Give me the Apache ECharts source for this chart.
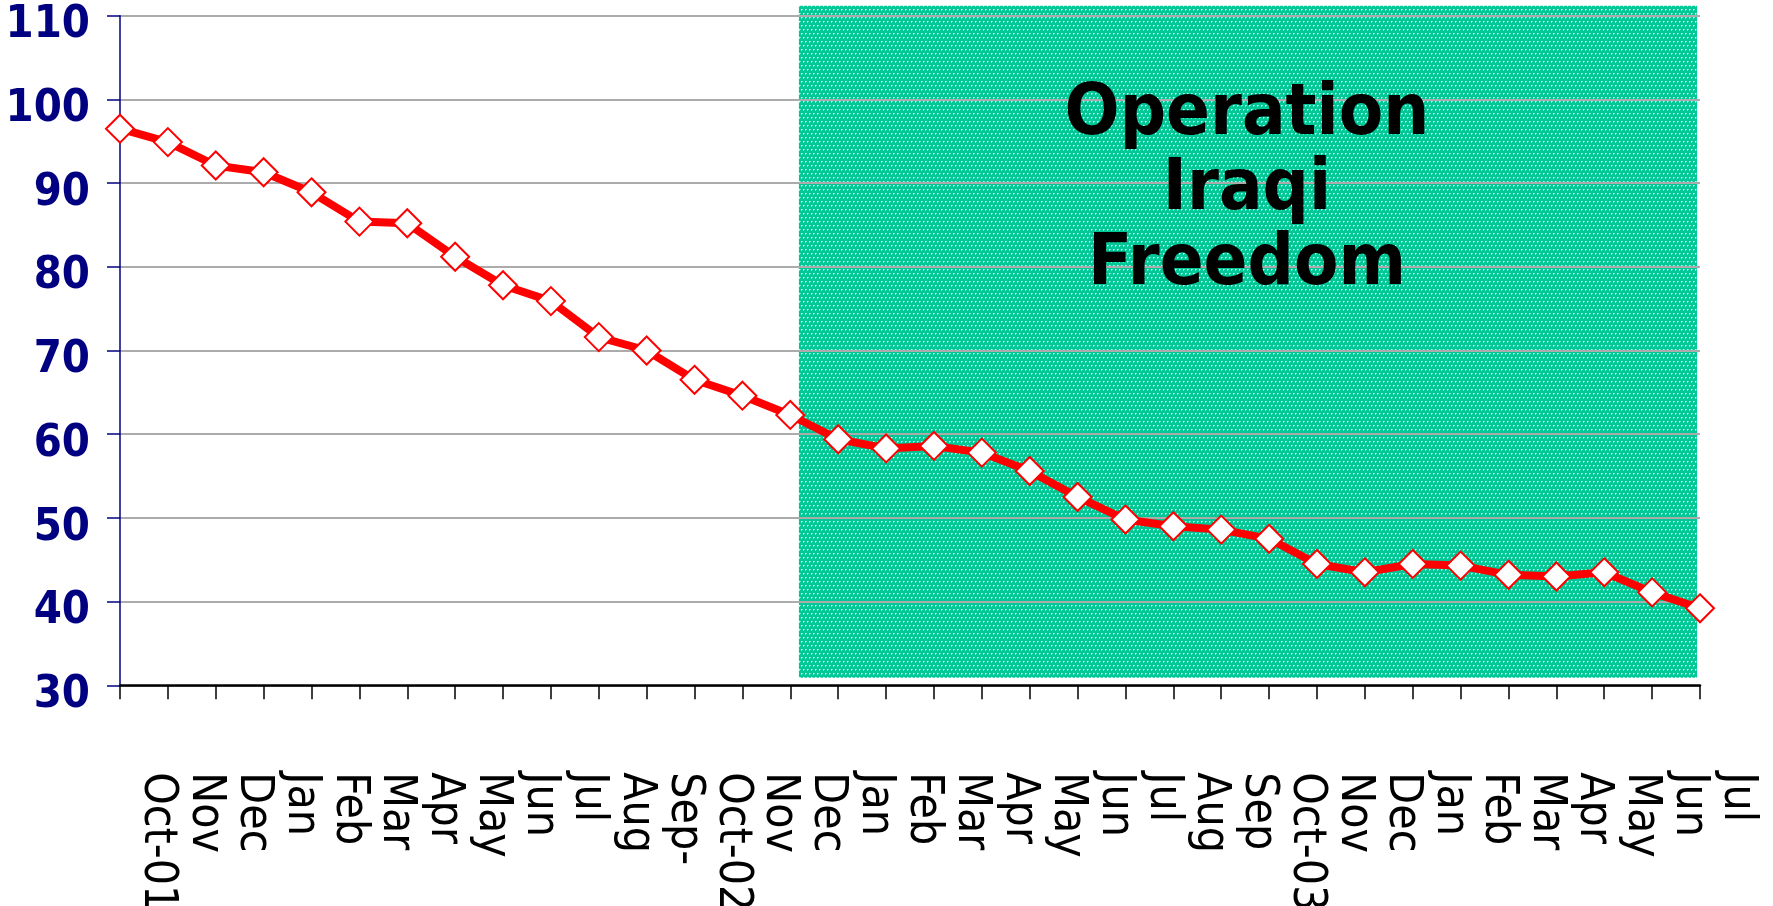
<!DOCTYPE html>
<html>
<head>
<meta charset="utf-8">
<script src="https://cdn.jsdelivr.net/npm/echarts@6/dist/echarts.min.js"></script>
<style>
html,body{margin:0;padding:0;background:#fff;}
#chart{width:1773px;height:906px;}
</style>
</head>
<body>
<div id="chart"></div>
<script>
const categories = ['Oct-01','Nov','Dec','Jan','Feb','Mar','Apr','May','Jun','Jul','Aug','Sep-',
  'Oct-02','Nov','Dec','Jan','Feb','Mar','Apr','May','Jun','Jul','Aug','Sep',
  'Oct-03','Nov','Dec','Jan','Feb','Mar','Apr','May','Jun','Jul'];
const values = [96.5,94.9,92.1,91.3,88.9,85.4,85.2,81.2,77.8,75.9,71.6,70.0,
  66.5,64.6,62.3,59.4,58.3,58.6,57.8,55.6,52.5,49.8,49.0,48.6,
  47.5,44.5,43.5,44.5,44.3,43.2,43.0,43.5,41.1,39.2];
const yTicks = {min:30, max:110, interval:10};
const shadeLabel = 'Operation\nIraqi\nFreedom';
// shaded period, in category-index / value units
const shade = {x0:14.18, x1:32.94, yTop:111.2, yBottom:30.9};

const condensed = "'DejaVu Sans Condensed','DejaVu Sans',sans-serif";

function makePattern(){
  const c = document.createElement('canvas');
  c.width = 8; c.height = 8;
  const g = c.getContext('2d');
  g.fillStyle = '#00c896';
  g.fillRect(0,0,8,8);
  g.fillStyle = 'rgba(255,255,255,0.95)';
  [[1,1],[5,1],[3,5],[7,5]].forEach(p=>g.fillRect(p[0],p[1],1,1));
  g.fillStyle = 'rgba(190,245,225,0.6)';
  [[2,1],[6,1],[4,5],[0,5],[1,2],[5,2],[3,6],[7,6]].forEach(p=>g.fillRect(p[0],p[1],1,1));
  return c;
}

const chart = echarts.init(document.getElementById('chart'), null, {renderer:'canvas'});
const option = {
  animation:false,
  backgroundColor:'#ffffff',
  title:{
    text: shadeLabel,
    left: 1247, top: 78, textAlign:'center', padding:0,
    textStyle:{fontFamily:condensed, fontWeight:'bold', fontSize:72, lineHeight:75, color:'#000'}
  },
  grid:{left:120, right:73, top:15.7, bottom:220.7, containLabel:false, outerBoundsMode:'none'},
  xAxis:{
    type:'category', data:categories, boundaryGap:false,
    axisLine:{show:true, lineStyle:{color:'#000', width:2.5}},
    axisTick:{show:true, interval:0, length:14, lineStyle:{color:'#000', width:1.5}},
    axisLabel:{interval:0, rotate:-90, margin:87, align:'left', verticalAlign:'bottom',
      padding:[0,0,14,0], fontFamily:condensed, fontSize:46, color:'#000'},
    splitLine:{show:false}
  },
  yAxis:{
    type:'value', min:yTicks.min, max:yTicks.max, interval:yTicks.interval,
    axisLine:{show:true, lineStyle:{color:'#000080', width:1.5}},
    axisTick:{show:true, length:13, lineStyle:{color:'#000080', width:1.5}},
    axisLabel:{margin:30, fontFamily:condensed, fontWeight:'bold', fontSize:45, color:'#000080',
      verticalAlign:'top', lineHeight:20},
    splitLine:{show:true, lineStyle:{color:'#ababab', width:2}}
  },
  series:[{
    type:'line', data:values, z:5,
    lineStyle:{color:'#ff0000', width:8},
    symbol:'diamond', symbolSize:28, showAllSymbol:true,
    itemStyle:{color:'#ffffff', borderColor:'#ff0000', borderWidth:2}
  }]
};
chart.setOption(option);

function px(i, v){ return chart.convertToPixel({gridIndex:0}, [i, v]); }
function xAt(f){
  const i = Math.floor(f);
  const a = px(i, yTicks.min)[0], b = px(i+1, yTicks.min)[0];
  return a + (f - i) * (b - a);
}
const xl = xAt(shade.x0), xr = xAt(shade.x1);
const yt = px(0, shade.yTop)[1], yb = px(0, shade.yBottom)[1];
chart.setOption({
  graphic:[{
    type:'rect', z:-10, silent:true,
    shape:{x:xl, y:yt, width:xr-xl, height:yb-yt},
    style:{fill:{image:makePattern(), repeat:'repeat'}}
  }]
});
</script>
</body>
</html>
